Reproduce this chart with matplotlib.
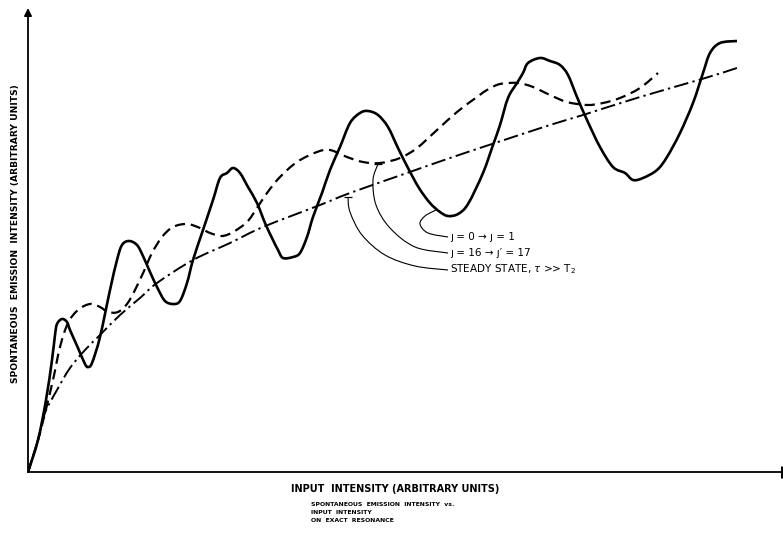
import numpy as np
import matplotlib
matplotlib.use("Agg")
import matplotlib.pyplot as plt
from matplotlib.path import Path
from matplotlib.patches import PathPatch

# Spontaneous emission vs input intensity (arbitrary units)
x_j0 = [0, 10, 18, 24, 27, 29, 34, 39, 42, 50, 57, 60, 64, 72, 82, 89, 94, 101, 109, 115,
        122, 130, 137, 145, 152, 159, 165, 175, 185, 192, 199, 205, 212, 220, 229, 237, 244,
        250, 255, 265, 272, 279, 285, 294, 302, 312, 322, 332, 340, 350, 360, 370, 380, 391,
        402, 412, 420, 430, 440, 455, 465, 472, 480, 489, 495, 500, 512, 522, 532, 540, 549,
        559, 572, 585, 597, 605, 615, 629, 639, 652, 665, 675, 682, 692, 709]
y_j0 = [0, 32, 72, 112, 137, 148, 153, 150, 142, 124, 108, 105, 109, 135, 182, 212, 227, 231,
        227, 216, 200, 183, 171, 168, 171, 189, 212, 242, 272, 294, 299, 304, 299, 285, 269,
        249, 234, 222, 214, 215, 219, 235, 255, 279, 302, 325, 349, 359, 361, 357, 345, 324,
        304, 284, 269, 260, 256, 258, 268, 299, 327, 347, 374, 389, 399, 409, 414, 411, 407,
        397, 375, 352, 325, 305, 299, 292, 294, 302, 315, 339, 369, 399, 419, 429, 431]

x_j16 = [0, 10, 17, 25, 32, 40, 50, 62, 72, 80, 90, 99, 107, 116, 124, 134, 145, 159, 172,
         182, 194, 205, 219, 229, 239, 252, 269, 289, 302, 319, 335, 352, 372, 389, 409, 429,
         449, 459, 472, 490, 505, 522, 539, 559, 575, 592, 612, 630]
y_j16 = [0, 32, 59, 92, 125, 149, 162, 168, 165, 160, 160, 168, 182, 201, 219, 235, 245, 248,
         244, 239, 236, 240, 250, 264, 279, 295, 310, 320, 322, 315, 310, 309, 314, 324, 342,
         360, 375, 382, 388, 389, 385, 377, 370, 367, 369, 374, 384, 399]

x_ss = [0, 10, 17, 29, 42, 57, 72, 92, 112, 129, 165, 202, 235, 292, 322, 379, 422, 464, 522,
        555, 612, 674, 709]
y_ss = [0, 32, 59, 82, 104, 122, 137, 157, 174, 189, 212, 229, 245, 267, 279, 299, 314, 328,
        347, 357, 375, 393, 404]

labels = ["ȷ = 0 → ȷ = 1", "ȷ = 16 → ȷ′ = 17", r"STEADY STATE, $\tau$ >> T$_2$"]

W, H = 783, 538
fig = plt.figure(figsize=(W / 100, H / 100), dpi=100)
x0, x1, ytop, ybot = 28, 782, 8, 472
ax = fig.add_axes([x0 / W, (H - ybot) / H, (x1 - x0) / W, (ybot - ytop) / H])
ax.set_xlim(0, x1 - x0)
ax.set_ylim(0, ybot - ytop)
for s in ("top", "right", "left"):
    ax.spines[s].set_visible(False)
ax.spines["bottom"].set_linewidth(1.3)
ax.set_xticks([])
ax.set_yticks([])


def smooth_path(xs, ys):
    """Catmull-Rom curve through the given points as a cubic Bezier path."""
    P = np.column_stack([xs, ys]).astype(float)
    n = len(P)
    verts = [P[0]]
    codes = [Path.MOVETO]
    for i in range(n - 1):
        p0 = P[i - 1] if i > 0 else P[i]
        p1, p2 = P[i], P[i + 1]
        p3 = P[i + 2] if i + 2 < n else P[i + 1]
        verts += [p1 + (p2 - p0) / 6, p2 - (p3 - p1) / 6, p2]
        codes += [Path.CURVE4] * 3
    return Path(verts, codes)


def curve(xs, ys, lw, ls="-"):
    ax.add_patch(PathPatch(smooth_path(xs, ys), fill=False, lw=lw, ls=ls,
                           edgecolor="black", capstyle="butt", joinstyle="round"))


curve(x_j0, y_j0, 1.9)
curve(x_j16, y_j16, 1.6, (0, (4.6, 2.6)))
curve(x_ss, y_ss, 1.4, (0, (7.5, 2.2, 1.2, 2.2)))

# y-axis with arrow head
ax.annotate("", xy=(0, 1.0), xytext=(0, 0), xycoords="axes fraction",
            arrowprops=dict(arrowstyle="-|>", lw=1.3, color="black",
                            mutation_scale=11, shrinkA=0, shrinkB=0))
# end mark on the x-axis
ax.plot([1, 1], [-0.012, 0.012], transform=ax.transAxes, color="black",
        lw=2.2, clip_on=False, solid_capstyle="butt")

# leader lines to the curve labels
leaders = [
    ([408, 397, 392, 400, 420], [262, 256, 248, 239, 235]),
    ([350, 345, 348, 362, 387, 420], [308, 292, 267, 244, 225, 219]),
    ([320, 322, 334, 357, 387, 420], [275, 260, 237, 217, 206, 202]),
]
for (lx, ly) in leaders:
    ax.add_patch(PathPatch(smooth_path(lx, ly), fill=False, lw=0.8, edgecolor="black"))
for (lx, ly) in leaders[1:]:
    ax.plot(lx[0], ly[0], marker="_", ms=6, mew=0.9, color="black")

for i, lab in enumerate(labels):
    ax.text(422, 235 - 16 * i, lab, fontsize=7.5, va="center", ha="left",
            family="DejaVu Sans")

fig.text(16 / W, 1 - 234 / H, "SPONTANEOUS  EMISSION  INTENSITY (ARBITRARY UNITS)",
         rotation=90, ha="center", va="center", fontsize=6.6, fontweight="bold")
fig.text(395 / W, 1 - 489 / H, "INPUT  INTENSITY (ARBITRARY UNITS)",
         ha="center", va="center", fontsize=7.0, fontweight="bold")
caption = ["SPONTANEOUS  EMISSION  INTENSITY  vs.", "INPUT  INTENSITY", "ON  EXACT  RESONANCE"]
for i, line in enumerate(caption):
    fig.text(311 / W, 1 - (504 + 8 * i) / H, line, ha="left", va="center",
             fontsize=4.4, fontweight="heavy")

fig.savefig("out.png", dpi=100, facecolor="white")
